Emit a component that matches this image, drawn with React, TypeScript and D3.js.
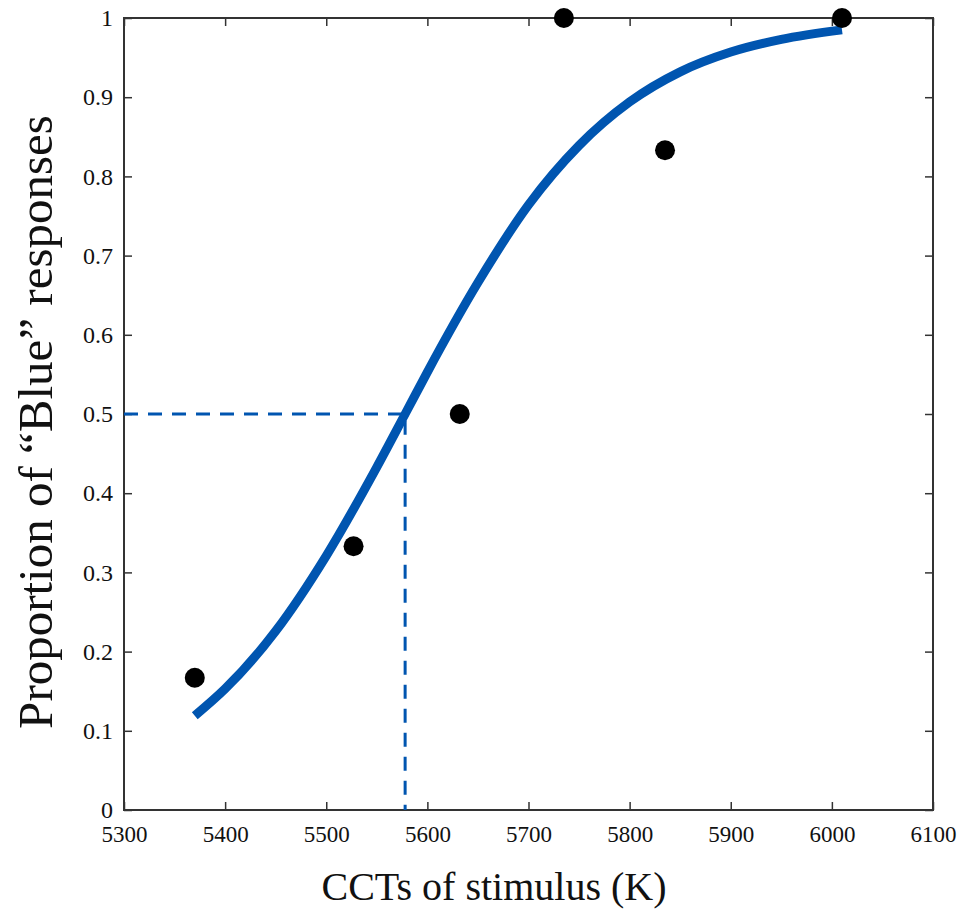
import React, { useRef, useEffect } from 'react';
import * as d3 from 'd3';

// Observed proportions of "Blue" responses per stimulus CCT
const stimulusCCT = [5370, 5527, 5632, 5735, 5835, 6010];
const blueProportion = [0.167, 0.333, 0.5, 1.0, 0.833, 1.0];

// Fitted psychometric curve
const fitCCT = [5370, 5400, 5450, 5500, 5550, 5578, 5600, 5650, 5700, 5750, 5800, 5850, 5900, 5950, 6010];
const fitProportion = [0.119, 0.153, 0.226, 0.321, 0.433, 0.5, 0.553, 0.666, 0.764, 0.839, 0.894, 0.932, 0.957, 0.973, 0.985];

// Point of subjective equality
const pseCCT = 5578;
const pseLevel = 0.5;

const xTicks = [5300, 5400, 5500, 5600, 5700, 5800, 5900, 6000, 6100];
const yTicks = [0, 0.1, 0.2, 0.3, 0.4, 0.5, 0.6, 0.7, 0.8, 0.9, 1];

const App = () => {
    const svgRef = useRef<SVGSVGElement>(null);

    useEffect(() => {
        const width = 959;
        const height = 914;
        const marginLeft = 124;
        const marginRight = 26;
        const marginTop = 18;
        const marginBottom = 104;
        const font = '"Liberation Serif", "Times New Roman", serif';
        const blue = '#0055b0';

        const svg = d3.select(svgRef.current)
            .attr('width', width)
            .attr('height', height)
            .attr('viewBox', `0 0 ${width} ${height}`)
            .style('font-family', font);

        svg.selectAll('*').remove();

        const x = d3.scaleLinear()
            .domain([5300, 6100])
            .range([marginLeft, width - marginRight]);

        const y = d3.scaleLinear()
            .domain([0, 1])
            .range([height - marginBottom, marginTop]);

        const tickLen = 8;

        // Bottom axis with labels, inward ticks
        svg.append('g')
            .attr('transform', `translate(0,${height - marginBottom})`)
            .call(d3.axisBottom(x).tickValues(xTicks).tickSizeInner(-tickLen).tickSizeOuter(0).tickPadding(16)
                .tickFormat(d => String(d)))
            .attr('font-family', font)
            .attr('font-size', 23)
            .call(g => g.select('.domain').remove())
            .call(g => g.selectAll('.tick line').attr('stroke', '#333').attr('stroke-width', 1.5))
            .call(g => g.selectAll('.tick text').style('font-family', font).style('font-size', '23px').attr('fill', '#111'));

        // Top axis, ticks only
        svg.append('g')
            .attr('transform', `translate(0,${marginTop})`)
            .call(d3.axisTop(x).tickValues(xTicks).tickSizeInner(-tickLen).tickSizeOuter(0).tickFormat(() => ''))
            .call(g => g.select('.domain').remove())
            .call(g => g.selectAll('.tick line').attr('stroke', '#333').attr('stroke-width', 1.5));

        // Left axis with labels
        svg.append('g')
            .attr('transform', `translate(${marginLeft},0)`)
            .call(d3.axisLeft(y).tickValues(yTicks).tickSizeInner(-tickLen).tickSizeOuter(0).tickPadding(11)
                .tickFormat(d => d3.format('~g')(d as number)))
            .attr('font-family', font)
            .attr('font-size', 24)
            .call(g => g.select('.domain').remove())
            .call(g => g.selectAll('.tick line').attr('stroke', '#333').attr('stroke-width', 1.5))
            .call(g => g.selectAll('.tick text').style('font-family', font).style('font-size', '24px').attr('fill', '#111'));

        // Right axis, ticks only
        svg.append('g')
            .attr('transform', `translate(${width - marginRight},0)`)
            .call(d3.axisRight(y).tickValues(yTicks).tickSizeInner(-tickLen).tickSizeOuter(0).tickFormat(() => ''))
            .call(g => g.select('.domain').remove())
            .call(g => g.selectAll('.tick line').attr('stroke', '#333').attr('stroke-width', 1.5));

        // Frame
        svg.append('rect')
            .attr('x', x(5300))
            .attr('y', y(1))
            .attr('width', x(6100) - x(5300))
            .attr('height', y(0) - y(1))
            .attr('fill', 'none')
            .attr('stroke', '#333')
            .attr('stroke-width', 2);

        // PSE dashed guides
        const guide = d3.line<[number, number]>()
            .x(d => x(d[0]))
            .y(d => y(d[1]));

        svg.append('path')
            .attr('d', guide([[5300, pseLevel], [pseCCT, pseLevel], [pseCCT, 0]]))
            .attr('fill', 'none')
            .attr('stroke', blue)
            .attr('stroke-width', 3)
            .attr('stroke-dasharray', '14,10');

        // Fitted curve
        const curve = d3.line<number>()
            .x(d => x(d))
            .y((d, i) => y(fitProportion[i]))
            .curve(d3.curveMonotoneX);

        svg.append('path')
            .datum(fitCCT)
            .attr('d', curve)
            .attr('fill', 'none')
            .attr('stroke', blue)
            .attr('stroke-width', 9);

        // Observed points
        svg.append('g')
            .selectAll('circle')
            .data(stimulusCCT)
            .join('circle')
            .attr('cx', d => x(d))
            .attr('cy', (d, i) => y(blueProportion[i]))
            .attr('r', 10)
            .attr('fill', '#000');

        // Axis titles
        svg.append('text')
            .attr('x', 494)
            .attr('y', 900)
            .attr('text-anchor', 'middle')
            .attr('font-family', font)
            .attr('font-size', 40)
            .attr('fill', '#111')
            .text('CCTs of stimulus (K)');

        svg.append('text')
            .attr('transform', `translate(52,422) rotate(-90)`)
            .attr('text-anchor', 'middle')
            .attr('font-family', font)
            .attr('font-size', 49)
            .attr('fill', '#111')
            .text('Proportion of \u201cBlue\u201d responses');
    }, []);

    return (
        <svg ref={svgRef} style={{ position: 'absolute', left: 0, top: 0 }}></svg>
    );
};

export default App;
